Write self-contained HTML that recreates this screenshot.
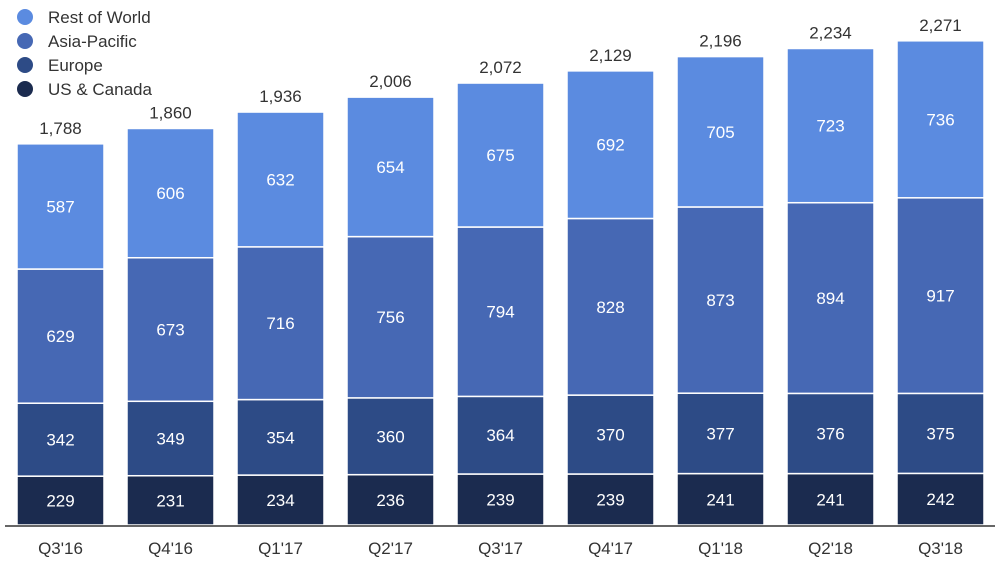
<!DOCTYPE html>
<html><head><meta charset="utf-8"><style>
body{margin:0;background:#fff;width:1000px;height:560px;overflow:hidden;font-family:"Liberation Sans",sans-serif}
</style></head><body>
<svg id="chart" width="1000" height="560" xmlns="http://www.w3.org/2000/svg" font-family="Liberation Sans, sans-serif"></svg>
<script>
const categories=["Q3'16","Q4'16","Q1'17","Q2'17","Q3'17","Q4'17","Q1'18","Q2'18","Q3'18"];
const usCanada=[229,231,234,236,239,239,241,241,242];
const europe=[342,349,354,360,364,370,377,376,375];
const asiaPacific=[629,673,716,756,794,828,873,894,917];
const restOfWorld=[587,606,632,654,675,692,705,723,736];
const totalLabels=["1,788","1,860","1,936","2,006","2,072","2,129","2,196","2,234","2,271"];
const seriesNames=["US & Canada","Europe","Asia-Pacific","Rest of World"];
const series=[usCanada,europe,asiaPacific,restOfWorld];
const colors=["#1b2b4f","#2d4b86","#4668b4","#5b8be0"];
const NS="http://www.w3.org/2000/svg";
const svg=document.getElementById('chart');
const baseY=525, scale=0.2133, x0=17, step=110, bw=87;
const yPos=v=>baseY-v*scale;
const xPos=i=>x0+i*step;
function mk(tag,attrs,parent){const e=document.createElementNS(NS,tag);for(const k in attrs)e.setAttribute(k,attrs[k]);(parent||svg).appendChild(e);return e;}
categories.forEach((c,i)=>{
  let cum=0;
  series.forEach((s,j)=>{
    const v=s[i];const yt=yPos(cum+v), yb=yPos(cum);
    const r=mk('rect',{x:xPos(i),y:yt,width:bw,height:yb-yt,fill:colors[j],stroke:'#fff','stroke-width':1.5});
    
    
    const t=mk('text',{x:xPos(i)+bw/2,y:(yt+yb)/2+6,'text-anchor':'middle','font-size':17,fill:'#fff'});
    t.textContent=v;
    
    
    cum+=v;
  });
  const tt=mk('text',{x:xPos(i)+bw/2,y:yPos(cum)-10,'text-anchor':'middle','font-size':17,fill:'#333'});
  tt.textContent=totalLabels[i];
  
  
  const xl=mk('text',{x:xPos(i)+bw/2,y:554,'text-anchor':'middle','font-size':17,fill:'#333'});
  xl.textContent=c;
  
  
});
const ax=mk('line',{x1:5,x2:995,y1:baseY+1,y2:baseY+1,stroke:'#333','stroke-width':1.5});


const legendOrder=[3,2,1,0];
legendOrder.forEach((j,k)=>{
  const g=mk('g',{});
  
  
  mk('circle',{cx:25,cy:17+k*24,r:8,fill:colors[j]},g);
  const t=mk('text',{x:48,y:23+k*24,'font-size':17,fill:'#333'},g);
  t.textContent=seriesNames[j];
});
</script>
</body></html>
